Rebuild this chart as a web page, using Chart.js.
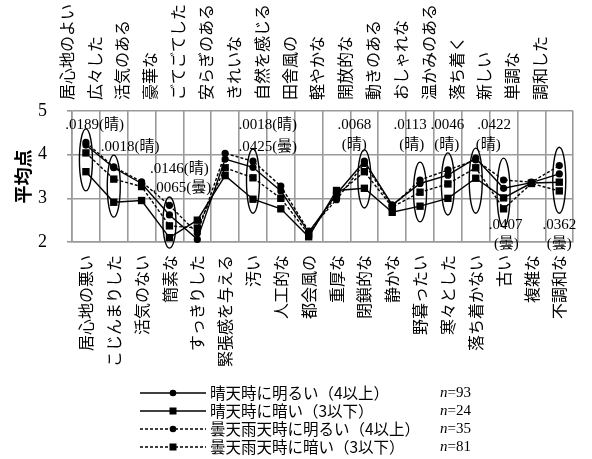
<!DOCTYPE html>
<html><head><meta charset="utf-8">
<script src="https://cdn.jsdelivr.net/npm/chart.js@4/dist/chart.umd.min.js"></script>
<style>html,body{margin:0;padding:0;background:#fff}#wrap{width:592px;height:459px;position:relative}</style>
</head><body><div id="wrap"><canvas id="c"></canvas></div>
<script>
// Adjective pairs (positive side on top, negative side below)
const topLabels = ['居心地のよい','広々した','活気のある','豪華な','ごてごてした','安らぎのある','きれいな','自然を感じる','田舎風の','軽やかな','開放的な','動きのある','おしゃれな','温かみのある','落ち着く','新しい','単調な','調和した'];
const bottomLabels = ['居心地の悪い','こじんまりした','活気のない','簡素な','すっきりした','緊張感を与える','汚い','人工的な','都会風の','重厚な','閉鎖的な','静かな','野暮ったい','寒々とした','落ち着かない','古い','複雑な','不調和な'];

// Mean scores per group
const sunnyBright  = [4.22,3.70,3.34,2.62,2.06,3.90,3.71,3.17,2.22,3.10,3.85,2.85,3.34,3.53,3.92,3.23,3.36,3.56];
const sunnyDark    = [3.61,2.91,2.95,2.10,2.50,3.52,2.98,2.76,2.12,3.18,3.23,2.68,2.82,3.00,3.46,3.01,3.35,3.37];
const cloudyBright = [4.28,3.72,3.38,2.84,2.20,4.03,3.85,3.28,2.25,2.97,3.80,2.82,3.42,3.65,3.88,3.42,3.37,3.75];
const cloudyDark   = [4.04,3.44,3.27,2.37,2.32,3.70,3.47,3.00,2.18,3.07,3.61,2.80,3.14,3.33,3.70,2.76,3.34,3.17];

const seriesNames = ['晴天時に明るい（4以上）','晴天時に暗い（3以下）','曇天雨天時に明るい（4以上）','曇天雨天時に暗い（3以下）'];
const sampleSizes = [93,24,35,81];
const yTicks = [2,3,4,5];

// Significance notes: [text, category position, score position]
const pNotes = [
  ['.0189(晴)',0.31,4.68],['.0018(晴)',1.59,4.17],['.0146(晴)',3.36,3.67],['.0065(曇)',3.45,3.24],
  ['.0018(晴)',6.53,4.68],['.0425(曇)',6.53,4.17],
  ['.0068',9.64,4.68],['(晴)',9.64,4.22],
  ['.0113',11.64,4.68],['(晴)',11.7,4.22],
  ['.0046',12.98,4.68],['(晴)',12.96,4.22],
  ['.0422',14.66,4.68],['(晴)',14.45,4.22],
  ['.0407',15.07,2.39],['(曇)',15.1,1.95],
  ['.0362',17.0,2.39],['(曇)',17.0,1.95]
];
// Circled groups: [category index, lower score, upper score]
const circled = [[0,3.17,4.59],[1,2.57,3.99],[3,1.86,3.03],[6,2.66,4.13],[10,2.78,4.11],[12,2.46,3.83],[13,2.62,4.04],[14,2.66,4.15],[15,2.34,3.92],[17,2.66,4.17]];

const styles = [
  {dash:[], pt:'circle', r:3.6},
  {dash:[], pt:'rect', r:5.2},
  {dash:[3,2], pt:'circle', r:3.6},
  {dash:[3,2], pt:'rect', r:5.2}
];
const seriesData = [sunnyBright, sunnyDark, cloudyBright, cloudyDark];

const datasets = seriesData.map((d,i)=>({
  label: seriesNames[i], data: d, xAxisID:'x', yAxisID:'y',
  borderColor:'#000', backgroundColor:'#000', borderWidth:1.4,
  borderDash: styles[i].dash, pointStyle: styles[i].pt, pointRadius: styles[i].r,
  pointBorderWidth:0, tension:0, clip:false
}));

const serif = '"Liberation Serif", "DejaVu Serif", "Noto Sans CJK JP", serif';
const cjk = '"Noto Sans CJK JP", sans-serif';

const extras = {
  id:'extras',
  afterDatasetsDraw(chart){
    const ctx = chart.ctx, xs = chart.scales.x, ys = chart.scales.y;
    ctx.save();
    // ellipses around groups
    ctx.strokeStyle = '#000'; ctx.lineWidth = 1.4; ctx.setLineDash([]);
    circled.forEach(([i,lo,hi])=>{
      const cx = xs.getPixelForValue(i);
      const y1 = ys.getPixelForValue(hi), y2 = ys.getPixelForValue(lo);
      ctx.beginPath();
      ctx.ellipse(cx,(y1+y2)/2,6.5,(y2-y1)/2,0,0,Math.PI*2);
      ctx.stroke();
    });
    // p-value notes
    ctx.fillStyle = '#000';
    ctx.font = '15px ' + serif;
    ctx.textAlign = 'center'; ctx.textBaseline = 'middle';
    pNotes.forEach(([t,xp,yp])=>{
      ctx.fillText(t, xs.getPixelForValue(xp), ys.getPixelForValue(yp));
    });
    // legend
    const rows = [393,411,429,447];
    chart.data.datasets.forEach((ds,i)=>{
      const y = rows[i];
      ctx.strokeStyle = '#000'; ctx.lineWidth = 1.3;
      ctx.setLineDash(styles[i].dash);
      ctx.beginPath(); ctx.moveTo(140,y); ctx.lineTo(206,y); ctx.stroke();
      ctx.setLineDash([]);
      ctx.fillStyle = '#000';
      if (styles[i].pt === 'circle') {
        ctx.beginPath(); ctx.arc(173,y,3.3,0,Math.PI*2); ctx.fill();
      } else {
        ctx.fillRect(169.5,y-3.5,7,7);
      }
      ctx.textAlign = 'left'; ctx.textBaseline = 'middle';
      ctx.font = '15.5px ' + cjk;
      ctx.fillText(ds.label, 210, y);
      ctx.font = 'italic 15px ' + serif;
      ctx.fillText('n', 440, y);
      const w = ctx.measureText('n').width;
      ctx.font = '15px ' + serif;
      ctx.fillText('=' + sampleSizes[i], 440 + w, y);
    });
    ctx.restore();
  }
};

new Chart(document.getElementById('c'), {
  type:'line',
  data:{ labels: bottomLabels, datasets },
  options:{
    responsive:true, maintainAspectRatio:false, animation:false, devicePixelRatio:1,
    layout:{padding:0},
    plugins:{legend:{display:false}, tooltip:{enabled:false}},
    scales:{
      x:{
        type:'category', position:'bottom', labels: bottomLabels, offset:true,
        grid:{offset:true, color:'#9a9a9a', lineWidth:1.6, drawTicks:false},
        border:{display:true, color:'#9a9a9a', width:1.6},
        ticks:{autoSkip:false, minRotation:90, maxRotation:90, padding:13, color:'#000', font:{family:cjk, size:16}},
        afterFit(s){ s.height = 217; }
      },
      xTop:{
        type:'category', position:'top', labels: topLabels, offset:true,
        grid:{display:false, drawTicks:false},
        border:{display:false},
        ticks:{autoSkip:false, minRotation:90, maxRotation:90, padding:11, color:'#000', font:{family:cjk, size:16}},
        afterFit(s){ s.height = 111; }
      },
      y:{
        min:2, max:5,
        afterBuildTicks(s){ s.ticks = yTicks.map(v=>({value:v})); },
        grid:{color:'#9a9a9a', lineWidth:1.6, tickLength:5},
        border:{display:true, color:'#9a9a9a', width:1.6},
        ticks:{padding:20, color:'#000', font:{family:serif, size:18}},
        title:{display:true, text:'平均点', color:'#000', font:{family:cjk, size:18, weight:'bold'}, padding:{top:12, bottom:0}},
        afterFit(s){ s.width = 72; }
      }
    }
  },
  plugins:[extras]
});
</script>
</body></html>
